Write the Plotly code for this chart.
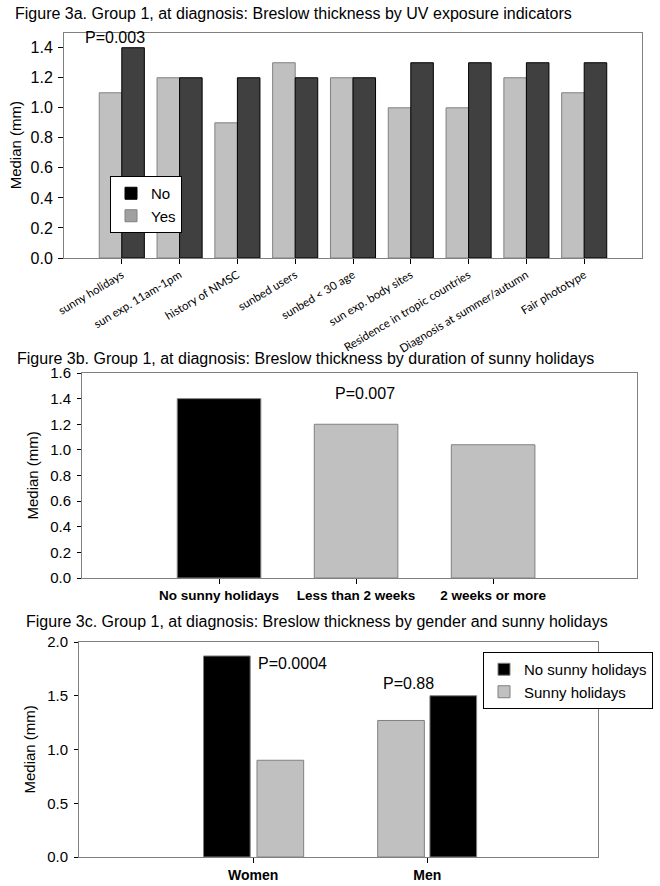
import plotly.graph_objects as go

# figure 3a data
uv_cats = ['sunny holidays', 'sun exp. 11am-1pm', 'history of NMSC', 'sunbed users',
           'sunbed < 30 age', 'sun exp. body sites', 'Residence in tropic countries',
           'Diagnosis at summer/autumn', 'Fair phototype']
uv_yes = [1.1, 1.2, 0.9, 1.3, 1.2, 1.0, 1.0, 1.2, 1.1]
uv_no = [1.4, 1.2, 1.2, 1.2, 1.2, 1.3, 1.3, 1.3, 1.3]

# figure 3b data
dur_cats = ['No sunny holidays', 'Less than 2 weeks', '2 weeks or more']
dur_vals = [1.4, 1.2, 1.04]

# figure 3c data
sex_cats = ['Women', 'Men']
sex_no_sunny = [1.87, 1.5]
sex_sunny = [0.9, 1.27]

W, H = 660, 886
FONT = 'Liberation Sans, Arial, sans-serif'
FS = 16
LIGHT = '#c0c0c0'
DARK = '#404040'
BOX = '#808080'


def px_x(p):
    return p / W


def px_y(p):
    return 1 - p / H


fig = go.Figure()

# --- 3a ---
fig.add_trace(go.Bar(x=uv_cats, y=uv_yes, offset=-0.39, width=0.39,
                     marker=dict(color=LIGHT, line=dict(color=BOX, width=1)),
                     showlegend=False, xaxis='x', yaxis='y'))
fig.add_trace(go.Bar(x=uv_cats, y=uv_no, offset=0, width=0.39,
                     marker=dict(color=DARK, line=dict(color='black', width=1)),
                     showlegend=False, xaxis='x', yaxis='y'))
# legend swatches
fig.add_trace(go.Bar(x=[uv_cats[0]], y=[None], name='No', legend='legend',
                     marker=dict(color='black', line=dict(color='black', width=1)),
                     xaxis='x', yaxis='y'))
fig.add_trace(go.Bar(x=[uv_cats[0]], y=[None], name='Yes', legend='legend',
                     marker=dict(color='#a0a0a0', line=dict(color=BOX, width=1)),
                     xaxis='x', yaxis='y'))

# --- 3b ---
fig.add_trace(go.Bar(x=dur_cats, y=dur_vals, width=0.61,
                     marker=dict(color=['black', LIGHT, LIGHT], line=dict(color=BOX, width=1)),
                     showlegend=False, xaxis='x2', yaxis='y2'))

# --- 3c ---
fig.add_trace(go.Bar(x=sex_cats, y=sex_no_sunny, offset=[-0.285, 0.015], width=0.268,
                     name='No sunny holidays', legend='legend2',
                     marker=dict(color='black', line=dict(color=BOX, width=1)),
                     xaxis='x3', yaxis='y3'))
fig.add_trace(go.Bar(x=sex_cats, y=sex_sunny, offset=[0.022, -0.285], width=0.268,
                     name='Sunny holidays', legend='legend2',
                     marker=dict(color=LIGHT, line=dict(color=BOX, width=1)),
                     xaxis='x3', yaxis='y3'))

axis_common = dict(showline=True, linecolor=BOX, linewidth=1, mirror=True, automargin=False,
                   showgrid=False, zeroline=False, ticks='outside', tickcolor='black',
                   ticklen=5, tickfont=dict(family=FONT, size=15, color='black'))
bold_ticks = dict(family=FONT, size=13.5, color='black', weight='bold')
legend_style = dict(xanchor='left', yanchor='top', bgcolor='white', bordercolor='black',
                    borderwidth=1, itemwidth=30, traceorder='normal',
                    font=dict(family=FONT, size=15, color='black'))

fig.update_layout(
    template='none',
    width=W, height=H, margin=dict(l=0, r=0, t=0, b=0, autoexpand=False),
    paper_bgcolor='white', plot_bgcolor='white', barmode='overlay',
    font=dict(family=FONT, color='black'),
    xaxis=dict(axis_common, domain=[px_x(64), px_x(642)], anchor='y', type='category',
               range=[-1, 9], tickangle=-31,
               tickfont=dict(family='Lato, Open Sans, sans-serif', size=11.5, color='black')),
    yaxis=dict(axis_common, domain=[px_y(258), px_y(32.7)], anchor='x', range=[0, 1.5],
               tickvals=[0, 0.2, 0.4, 0.6, 0.8, 1.0, 1.2, 1.4], tickformat='.1f',
               tickfont=dict(family=FONT, size=16, color='black'), ticklabelstandoff=2),
    xaxis2=dict(axis_common, domain=[px_x(82), px_x(637)], anchor='y2', type='category',
                range=[-1, 3.05], tickfont=bold_ticks),
    yaxis2=dict(axis_common, domain=[px_y(578), px_y(373)], anchor='x2', range=[0, 1.6],
                dtick=0.2, tickformat='.1f', ticklen=4, ticklabelstandoff=3),
    xaxis3=dict(axis_common, domain=[px_x(79), px_x(598)], anchor='y3', type='category',
                range=[-1, 1.98], tickfont=dict(bold_ticks, size=14)),
    yaxis3=dict(axis_common, domain=[px_y(857), px_y(642)], anchor='x3', range=[0, 2.0],
                dtick=0.5, tickformat='.1f', ticklen=4, ticklabelstandoff=3),
    legend=dict(legend_style, x=px_x(110), y=px_y(176)),
    legend2=dict(legend_style, x=px_x(483), y=px_y(652)),
)

# titles
titles = [
    ('Figure 3a. Group 1, at diagnosis: Breslow thickness by UV exposure indicators', 13, 13),
    ('Figure 3b. Group 1, at diagnosis: Breslow thickness by duration of sunny holidays', 15, 358),
    ('Figure 3c. Group 1, at diagnosis: Breslow thickness by gender and sunny holidays', 24, 621),
]
for text, tx, ty in titles:
    fig.add_annotation(text=text, xref='paper', yref='paper', x=px_x(tx), y=px_y(ty),
                       xanchor='left', yanchor='middle', showarrow=False,
                       font=dict(family=FONT, size=FS, color='black'))

# y axis titles
for tx, cy in [(15, (32.7 + 258) / 2), (32, (373 + 578) / 2), (29, (642 + 857) / 2)]:
    fig.add_annotation(text='Median (mm)', xref='paper', yref='paper', x=px_x(tx), y=px_y(cy),
                       xanchor='center', yanchor='middle', textangle=-90, showarrow=False,
                       font=dict(family=FONT, size=15, color='black'))

# p-values
fig.add_annotation(text='P=0.003', xref='x', yref='y', x=0, y=1.4, xshift=-7,
                   yanchor='bottom', showarrow=False, font=dict(family=FONT, size=FS))
fig.add_annotation(text='P=0.007', xref='x2', yref='y2', x=1.066, y=1.442,
                   showarrow=False, font=dict(family=FONT, size=FS))
fig.add_annotation(text='P=0.0004', xref='x3', yref='y3', x=0.017, y=1.8, xanchor='left',
                   showarrow=False, font=dict(family=FONT, size=FS))
fig.add_annotation(text='P=0.88', xref='x3', yref='y3', x=0.89, y=1.61,
                   showarrow=False, font=dict(family=FONT, size=FS))

# the page body has a default 8px margin, drop it so the figure sits at 0,0
fig.write_html('out.html', config={'displayModeBar': False},
               post_script="document.body.style.margin='0';")
